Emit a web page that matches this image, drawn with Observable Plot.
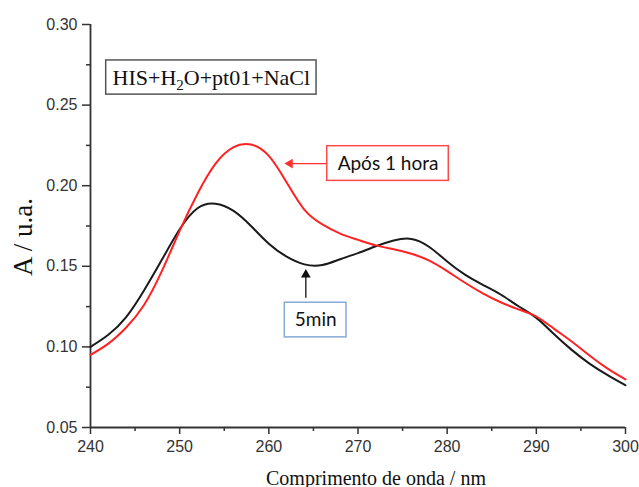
<!DOCTYPE html>
<html><head><meta charset="utf-8">
<script src="https://cdn.jsdelivr.net/npm/d3@7"></script>
<script src="https://cdn.jsdelivr.net/npm/@observablehq/plot@0.6"></script>
<style>body{margin:0;background:#fff} #chart{width:639px;height:487px}</style>
</head><body><div id="chart"></div>
<script>
// ---- data ----
const wavelengths = [240,242,244,246,248,250,252,254,256,258,260,262,264,266,268,270,272,274,276,278,280,282,284,286,288,290,292,294,296,298,300];
const abs5min = [0.1000,0.1075,0.1185,0.1350,0.1540,0.1730,0.1860,0.1888,0.1845,0.1750,0.1640,0.1560,0.1512,0.1508,0.1544,0.1582,0.1624,0.1660,0.1670,0.1620,0.1530,0.1448,0.1385,0.1325,0.1252,0.1180,0.1078,0.0980,0.0895,0.0825,0.0762];
const abs1h   = [0.0950,0.1020,0.1120,0.1260,0.1470,0.1720,0.1950,0.2135,0.2238,0.2255,0.2185,0.2020,0.1850,0.1760,0.1703,0.1664,0.1630,0.1606,0.1578,0.1535,0.1470,0.1398,0.1332,0.1277,0.1233,0.1188,0.1112,0.1032,0.0945,0.0865,0.0798];
const seriesNames = ["5min", "Após 1 hora"];
const seriesColors = ["#1a1a1a", "#ff2222"];
const xTicks = [240,250,260,270,280,290,300];
const xMinorTicks = [245,255,265,275,285,295];
const yTicks = [0.05,0.10,0.15,0.20,0.25,0.30];
const yMinorTicks = [0.075,0.125,0.175,0.225,0.275];
const legendText = "HIS+H2O+pt01+NaCl";
const xLabel = "Comprimento de onda / nm";
const yLabel = "A / u.a.";

const rows = wavelengths.flatMap((w, i) => [
  {w, a: abs5min[i], s: seriesNames[0]},
  {w, a: abs1h[i], s: seriesNames[1]}
]);

const axisColor = "#333";
const serif = "'Liberation Serif', 'Times New Roman', serif";
const calib = "Lato, 'Noto Sans', sans-serif";

const plot = Plot.plot({
  width: 639, height: 487,
  marginLeft: 90, marginRight: 14, marginTop: 24, marginBottom: 60,
  x: {domain: [240, 300]},
  y: {domain: [0.05, 0.30]},
  color: {domain: seriesNames, range: seriesColors},
  style: {fontFamily: "'Liberation Sans', Arial, sans-serif", fontSize: "16px", background: "white", overflow: "visible"},
  marks: [
    Plot.axisX({ticks: xTicks, tickSize: 7, tickPadding: 6, tickFormat: d => String(d), label: null, color: axisColor, strokeWidth: 1.5, fontSize: 16}),
    Plot.axisX({ticks: xMinorTicks, tickSize: 4, tickFormat: () => "", label: null, color: axisColor, strokeWidth: 1.5}),
    Plot.axisY({ticks: yTicks, tickSize: 8, tickPadding: 5, tickFormat: d3.format(".2f"), label: null, color: axisColor, strokeWidth: 1.5, fontSize: 16}),
    Plot.axisY({ticks: yMinorTicks, tickSize: 4, tickFormat: () => "", label: null, color: axisColor, strokeWidth: 1.5}),
    Plot.ruleX([240], {stroke: axisColor, strokeWidth: 1.8}),
    Plot.ruleY([0.05], {stroke: axisColor, strokeWidth: 1.8}),
    Plot.line(rows, {x: "w", y: "a", z: "s", stroke: "s", strokeWidth: 2, curve: "natural"}),
    // legend box
    Plot.rect([{x1: 241.76, x2: 265.35, y1: 0.2565, y2: 0.2777}], {x1: "x1", x2: "x2", y1: "y1", y2: "y2", fill: "white", stroke: "#555", strokeWidth: 1.5}),
    Plot.text([{x: 253.55, y: 0.2671, t: legendText}], {x: "x", y: "y", text: "t", fontFamily: serif, fontSize: 22, fill: "#111"}),
    // red annotation
    Plot.link([{x1: 266.55, x2: 262.3, y: 0.2137}], {x1: "x1", x2: "x2", y1: "y", y2: "y", stroke: "#ff3030", strokeWidth: 1.3}),
    Plot.dot([{x: 262.37, y: 0.2137}], {x: "x", y: "y", symbol: "triangle", r: 3.6, rotate: -90, fill: "#ff3030", stroke: "none"}),
    Plot.rect([{x1: 266.55, x2: 280.18, y1: 0.2030, y2: 0.2245}], {x1: "x1", x2: "x2", y1: "y1", y2: "y2", fill: "white", stroke: "#ff4a4a", strokeWidth: 1.5}),
    Plot.text([{x: 273.37, y: 0.2137, t: seriesNames[1]}], {x: "x", y: "y", text: "t", fontFamily: calib, fontSize: 19, fill: "#111"}),
    // black annotation
    Plot.link([{x: 264.15, y1: 0.1305, y2: 0.1450}], {x1: "x", x2: "x", y1: "y1", y2: "y2", stroke: "#111", strokeWidth: 1.3}),
    Plot.dot([{x: 264.15, y: 0.1448}], {x: "x", y: "y", symbol: "triangle", r: 3.6, fill: "#111", stroke: "none"}),
    Plot.rect([{x1: 261.79, x2: 268.71, y1: 0.1059, y2: 0.1274}], {x1: "x1", x2: "x2", y1: "y1", y2: "y2", fill: "white", stroke: "#86a9d6", strokeWidth: 1.5}),
    Plot.text([{x: 265.25, y: 0.1166, t: seriesNames[0]}], {x: "x", y: "y", text: "t", fontFamily: calib, fontSize: 19, fill: "#111"}),
    // axis titles
    Plot.text([yLabel], {text: d => d, frameAnchor: "left", textAnchor: "middle", rotate: -90, dx: -67, dy: 11, fontFamily: serif, fontSize: 27, fill: "#111"}),
    Plot.text([xLabel], {text: d => d, frameAnchor: "bottom", textAnchor: "middle", lineAnchor: "bottom", dx: 18, dy: 57, fontFamily: serif, fontSize: 20, fill: "#111"})
  ]
});

// subscript the 2 in H2O
for (const t of plot.querySelectorAll("text")) {
  if (t.textContent === legendText) {
    t.textContent = "";
    const ns = "http://www.w3.org/2000/svg";
    const parts = [["HIS+H", null], ["2", "sub"], ["O+pt01+NaCl", "back"]];
    for (const [s, k] of parts) {
      const ts = document.createElementNS(ns, "tspan");
      ts.textContent = s;
      if (k === "sub") { ts.setAttribute("dy", "5"); ts.setAttribute("font-size", "15"); }
      if (k === "back") { ts.setAttribute("dy", "-5"); }
      t.appendChild(ts);
    }
  }
}
document.getElementById("chart").appendChild(plot);
</script>
</body></html>
